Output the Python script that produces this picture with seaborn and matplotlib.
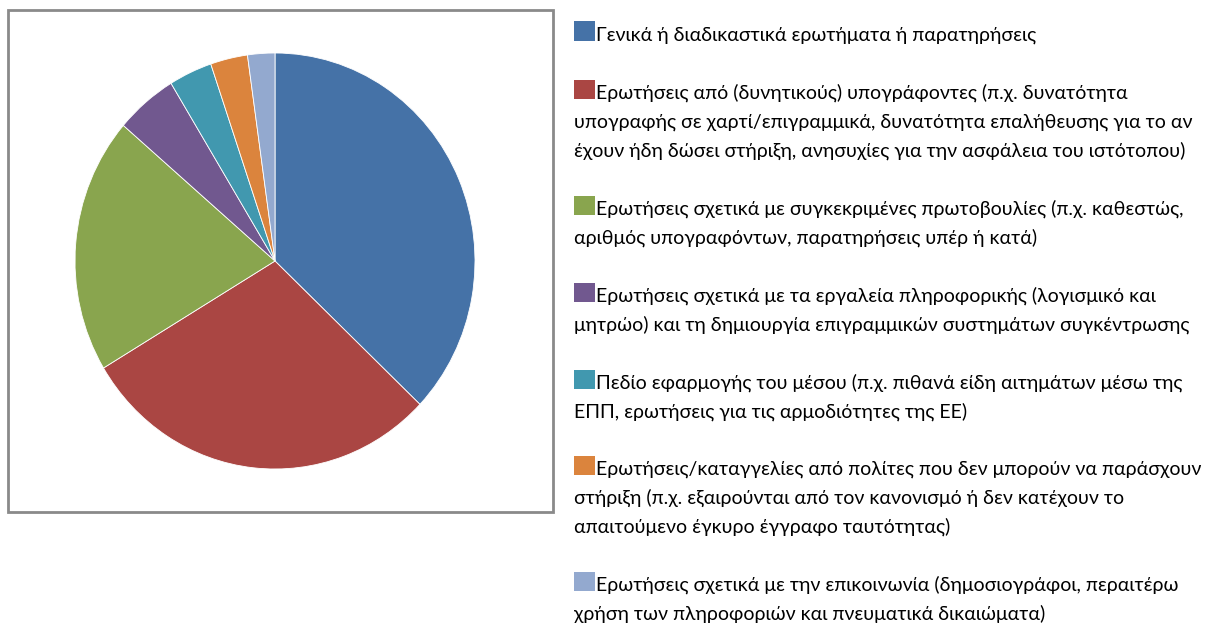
import matplotlib
matplotlib.use("Agg")
import matplotlib.pyplot as plt
import seaborn as sns
from matplotlib.patches import Rectangle

# share of each category (percent)
categories = [
    "Γενικά ή διαδικαστικά ερωτήματα ή παρατηρήσεις",
    "Ερωτήσεις από (δυνητικούς) υπογράφοντες",
    "Ερωτήσεις σχετικά με συγκεκριμένες πρωτοβουλίες",
    "Ερωτήσεις σχετικά με τα εργαλεία πληροφορικής",
    "Πεδίο εφαρμογής του μέσου",
    "Ερωτήσεις/καταγγελίες από πολίτες",
    "Ερωτήσεις σχετικά με την επικοινωνία",
]
shares = [37.1, 29.3, 19.9, 5.0, 3.5, 3.0, 2.2]

# legend text, wrapped as in the original
legend_lines = [
    ["Γενικά ή διαδικαστικά ερωτήματα ή παρατηρήσεις"],
    ["Ερωτήσεις από (δυνητικούς) υπογράφοντες (π.χ. δυνατότητα",
     "υπογραφής σε χαρτί/επιγραμμικά, δυνατότητα επαλήθευσης για το αν",
     "έχουν ήδη δώσει στήριξη, ανησυχίες για την ασφάλεια του ιστότοπου)"],
    ["Ερωτήσεις σχετικά με συγκεκριμένες πρωτοβουλίες (π.χ. καθεστώς,",
     "αριθμός υπογραφόντων, παρατηρήσεις υπέρ ή κατά)"],
    ["Ερωτήσεις σχετικά με τα εργαλεία πληροφορικής (λογισμικό και",
     "μητρώο) και τη δημιουργία επιγραμμικών συστημάτων συγκέντρωσης"],
    ["Πεδίο εφαρμογής του μέσου (π.χ. πιθανά είδη αιτημάτων μέσω της",
     "ΕΠΠ, ερωτήσεις για τις αρμοδιότητες της ΕΕ)"],
    ["Ερωτήσεις/καταγγελίες από πολίτες που δεν μπορούν να παράσχουν",
     "στήριξη (π.χ. εξαιρούνται από τον κανονισμό ή δεν κατέχουν το",
     "απαιτούμενο έγκυρο έγγραφο ταυτότητας)"],
    ["Ερωτήσεις σχετικά με την επικοινωνία (δημοσιογράφοι, περαιτέρω",
     "χρήση των πληροφοριών και πνευματικά δικαιώματα)"],
]

colors = sns.color_palette(["#4572A7", "#AA4643", "#89A54E", "#71588F",
                            "#4198AF", "#DB843D", "#93A9CF"])

sns.set_theme(style="white")
plt.rcParams["font.family"] = ["Lato", "Open Sans", "DejaVu Sans"]

W, H = 1205, 625
fig = plt.figure(figsize=(W / 100, H / 100), dpi=100)
fig.patch.set_facecolor("white")


def fx(x):
    return x / W


def fy(y):
    return 1 - y / H


# grey frame around the plot area
fig.patches.append(Rectangle((fx(8), fy(512)), fx(553) - fx(8), fy(10) - fy(512),
                             transform=fig.transFigure, fill=False,
                             edgecolor="#8a8a8a", lw=2))

ax = fig.add_axes([fx(75), fy(469), fx(475) - fx(75), fy(53) - fy(469)])
ax.pie(shares, colors=colors, startangle=90, counterclock=False,
       wedgeprops=dict(edgecolor="white", linewidth=0.6))
ax.set_aspect("auto")
ax.set_xlim(-1, 1)
ax.set_ylim(-1, 1)
ax.axis("off")

# legend drawn by hand so the swatch sits on the first line
baselines = [[41], [99, 128, 157], [215, 244], [302, 331],
             [389, 418], [475, 504, 533], [591, 620]]
for color, lines, ys in zip(colors, legend_lines, baselines):
    fig.patches.append(Rectangle((fx(574), fy(ys[0])), fx(595) - fx(574),
                                 fy(ys[0] - 19.5) - fy(ys[0]),
                                 transform=fig.transFigure, color=color, lw=0))
    for i, (line, y) in enumerate(zip(lines, ys)):
        x0 = 595.5 if i == 0 else 574
        fig.text(fx(x0), fy(y), line, fontsize=14.0, color="#000000",
                 ha="left", va="baseline")

fig.savefig("out.png", dpi=100)
